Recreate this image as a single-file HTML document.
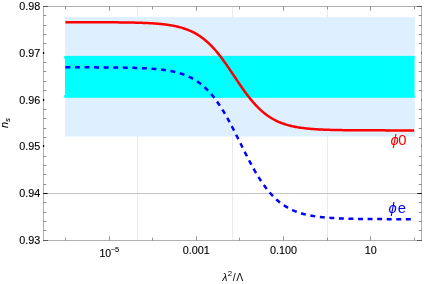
<!DOCTYPE html>
<html><head><meta charset="utf-8"><title>n_s plot</title>
<style>html,body{margin:0;padding:0;background:#fff;}body{width:425px;height:284px;overflow:hidden;font-family:"Liberation Sans",sans-serif;}svg{display:block;will-change:transform;}</style>
</head><body>
<svg width="425" height="284" viewBox="0 0 425 284">
<rect width="425" height="284" fill="#fff"/>
<line x1="137.5" y1="6.5" x2="137.5" y2="240.5" stroke="#ebebeb" stroke-width="1"/>
<line x1="232.5" y1="6.5" x2="232.5" y2="240.5" stroke="#ebebeb" stroke-width="1"/>
<line x1="327.5" y1="6.5" x2="327.5" y2="240.5" stroke="#ebebeb" stroke-width="1"/>
<line x1="43.5" y1="193.5" x2="421.5" y2="193.5" stroke="#c4c4c4" stroke-width="1"/>
<rect x="65" y="17" width="349.9" height="119.5" fill="#deefff"/>
<rect x="65" y="55.9" width="349.5" height="41.9" fill="#00ffff"/>
<path d="M64.1,56.4 q0,-0.5 0.9,-0.5 v2.8 h-0.4 q-0.5,0 -0.5,-0.6z M64.1,97.2 q0,0.6 0.9,0.6 v-2.8 h-0.4 q-0.5,0 -0.5,0.6z M415.4,56.4 q0,-0.5 -0.9,-0.5 v2.8 h0.4 q0.5,0 0.5,-0.6z M415.4,97.2 q0,0.6 -0.9,0.6 v-2.8 h0.4 q0.5,0 0.5,0.6z" fill="#00ffff"/>
<path d="M65,98.4 h0.8 v2.2 h-0.8z M414.9,98.4 h-0.9 v2.4 h0.9z M65,53.2 h0.7 v2.2 h-0.7z M414.9,53.0 h-0.8 v2.4 h0.8z" fill="#fff" fill-opacity="0.85"/>
<path d="M65.40,22.21 L66.27,22.21 L67.14,22.21 L68.02,22.21 L68.89,22.21 L69.76,22.21 L70.63,22.21 L71.50,22.21 L72.38,22.21 L73.25,22.21 L74.12,22.22 L74.99,22.22 L75.86,22.22 L76.74,22.22 L77.61,22.22 L78.48,22.22 L79.35,22.22 L80.22,22.22 L81.10,22.22 L81.97,22.22 L82.84,22.22 L83.71,22.23 L84.58,22.23 L85.46,22.23 L86.33,22.23 L87.20,22.23 L88.07,22.23 L88.94,22.23 L89.82,22.24 L90.69,22.24 L91.56,22.24 L92.43,22.24 L93.30,22.24 L94.18,22.25 L95.05,22.25 L95.92,22.25 L96.79,22.25 L97.66,22.26 L98.54,22.26 L99.41,22.26 L100.28,22.26 L101.15,22.27 L102.02,22.27 L102.90,22.27 L103.77,22.28 L104.64,22.28 L105.51,22.29 L106.38,22.29 L107.26,22.29 L108.13,22.30 L109.00,22.30 L109.87,22.31 L110.74,22.31 L111.62,22.32 L112.49,22.33 L113.36,22.33 L114.23,22.34 L115.10,22.35 L115.98,22.35 L116.85,22.36 L117.72,22.37 L118.59,22.38 L119.46,22.39 L120.34,22.39 L121.21,22.40 L122.08,22.41 L122.95,22.42 L123.82,22.44 L124.70,22.45 L125.57,22.46 L126.44,22.47 L127.31,22.49 L128.18,22.50 L129.06,22.52 L129.93,22.53 L130.80,22.55 L131.67,22.56 L132.54,22.58 L133.42,22.60 L134.29,22.62 L135.16,22.64 L136.03,22.66 L136.90,22.69 L137.78,22.71 L138.65,22.74 L139.52,22.76 L140.39,22.79 L141.26,22.82 L142.14,22.85 L143.01,22.88 L143.88,22.91 L144.75,22.95 L145.62,22.99 L146.50,23.02 L147.37,23.07 L148.24,23.11 L149.11,23.15 L149.98,23.20 L150.86,23.25 L151.73,23.30 L152.60,23.35 L153.47,23.41 L154.34,23.47 L155.22,23.53 L156.09,23.60 L156.96,23.66 L157.83,23.74 L158.70,23.81 L159.58,23.89 L160.45,23.97 L161.32,24.06 L162.19,24.15 L163.06,24.24 L163.94,24.34 L164.81,24.45 L165.68,24.56 L166.55,24.67 L167.42,24.79 L168.30,24.91 L169.17,25.05 L170.04,25.18 L170.91,25.33 L171.78,25.48 L172.66,25.63 L173.53,25.80 L174.40,25.97 L175.27,26.15 L176.14,26.34 L177.02,26.53 L177.89,26.74 L178.76,26.96 L179.63,27.18 L180.50,27.41 L181.38,27.66 L182.25,27.92 L183.12,28.18 L183.99,28.46 L184.86,28.75 L185.74,29.06 L186.61,29.38 L187.48,29.71 L188.35,30.05 L189.22,30.41 L190.10,30.79 L190.97,31.18 L191.84,31.58 L192.71,32.00 L193.58,32.44 L194.46,32.90 L195.33,33.38 L196.20,33.87 L197.07,34.38 L197.94,34.92 L198.82,35.47 L199.69,36.04 L200.56,36.64 L201.43,37.25 L202.30,37.89 L203.18,38.55 L204.05,39.23 L204.92,39.94 L205.79,40.67 L206.66,41.42 L207.54,42.20 L208.41,43.00 L209.28,43.82 L210.15,44.67 L211.02,45.54 L211.90,46.44 L212.77,47.36 L213.64,48.31 L214.51,49.28 L215.38,50.27 L216.26,51.29 L217.13,52.33 L218.00,53.39 L218.87,54.47 L219.74,55.58 L220.62,56.71 L221.49,57.85 L222.36,59.02 L223.23,60.20 L224.10,61.40 L224.98,62.62 L225.85,63.85 L226.72,65.09 L227.59,66.35 L228.46,67.62 L229.34,68.90 L230.21,70.19 L231.08,71.48 L231.95,72.78 L232.82,74.09 L233.70,75.39 L234.57,76.70 L235.44,78.01 L236.31,79.31 L237.18,80.62 L238.06,81.91 L238.93,83.20 L239.80,84.49 L240.67,85.76 L241.54,87.02 L242.42,88.27 L243.29,89.51 L244.16,90.73 L245.03,91.94 L245.90,93.13 L246.78,94.30 L247.65,95.46 L248.52,96.59 L249.39,97.70 L250.26,98.80 L251.14,99.87 L252.01,100.91 L252.88,101.94 L253.75,102.94 L254.62,103.92 L255.50,104.88 L256.37,105.81 L257.24,106.71 L258.11,107.60 L258.98,108.46 L259.86,109.29 L260.73,110.10 L261.60,110.88 L262.47,111.65 L263.34,112.38 L264.22,113.10 L265.09,113.79 L265.96,114.46 L266.83,115.10 L267.70,115.73 L268.58,116.33 L269.45,116.91 L270.32,117.47 L271.19,118.01 L272.06,118.53 L272.94,119.03 L273.81,119.52 L274.68,119.98 L275.55,120.43 L276.42,120.86 L277.30,121.27 L278.17,121.67 L279.04,122.05 L279.91,122.41 L280.78,122.76 L281.66,123.10 L282.53,123.42 L283.40,123.73 L284.27,124.03 L285.14,124.31 L286.02,124.58 L286.89,124.84 L287.76,125.09 L288.63,125.33 L289.50,125.56 L290.38,125.78 L291.25,125.99 L292.12,126.19 L292.99,126.38 L293.86,126.56 L294.74,126.74 L295.61,126.90 L296.48,127.06 L297.35,127.22 L298.22,127.36 L299.10,127.50 L299.97,127.64 L300.84,127.76 L301.71,127.88 L302.58,128.00 L303.46,128.11 L304.33,128.22 L305.20,128.32 L306.07,128.42 L306.94,128.51 L307.82,128.60 L308.69,128.68 L309.56,128.76 L310.43,128.84 L311.30,128.91 L312.18,128.98 L313.05,129.04 L313.92,129.11 L314.79,129.17 L315.66,129.23 L316.54,129.28 L317.41,129.33 L318.28,129.38 L319.15,129.43 L320.02,129.48 L320.90,129.52 L321.77,129.56 L322.64,129.60 L323.51,129.64 L324.38,129.67 L325.26,129.71 L326.13,129.74 L327.00,129.77 L327.87,129.80 L328.74,129.83 L329.62,129.85 L330.49,129.88 L331.36,129.90 L332.23,129.93 L333.10,129.95 L333.98,129.97 L334.85,129.99 L335.72,130.01 L336.59,130.03 L337.46,130.05 L338.34,130.06 L339.21,130.08 L340.08,130.09 L340.95,130.11 L341.82,130.12 L342.70,130.14 L343.57,130.15 L344.44,130.16 L345.31,130.17 L346.18,130.18 L347.06,130.19 L347.93,130.20 L348.80,130.21 L349.67,130.22 L350.54,130.23 L351.42,130.24 L352.29,130.24 L353.16,130.25 L354.03,130.26 L354.90,130.27 L355.78,130.27 L356.65,130.28 L357.52,130.28 L358.39,130.29 L359.26,130.29 L360.14,130.30 L361.01,130.30 L361.88,130.31 L362.75,130.31 L363.62,130.32 L364.50,130.32 L365.37,130.32 L366.24,130.33 L367.11,130.33 L367.98,130.33 L368.86,130.34 L369.73,130.34 L370.60,130.34 L371.47,130.35 L372.34,130.35 L373.22,130.35 L374.09,130.35 L374.96,130.36 L375.83,130.36 L376.70,130.36 L377.58,130.36 L378.45,130.36 L379.32,130.37 L380.19,130.37 L381.06,130.37 L381.94,130.37 L382.81,130.37 L383.68,130.37 L384.55,130.37 L385.42,130.38 L386.30,130.38 L387.17,130.38 L388.04,130.38 L388.91,130.38 L389.78,130.38 L390.66,130.38 L391.53,130.38 L392.40,130.38 L393.27,130.38 L394.14,130.38 L395.02,130.39 L395.89,130.39 L396.76,130.39 L397.63,130.39 L398.50,130.39 L399.38,130.39 L400.25,130.39 L401.12,130.39 L401.99,130.39 L402.86,130.39 L403.74,130.39 L404.61,130.39 L405.48,130.39 L406.35,130.39 L407.22,130.39 L408.10,130.39 L408.97,130.39 L409.84,130.39 L410.71,130.39 L411.58,130.39 L412.46,130.39 L413.33,130.39 L414.20,130.39" fill="none" stroke="#ff0000" stroke-width="2.5"/>
<path d="M65.40,67.31 L66.27,67.32 L67.14,67.32 L68.02,67.32 L68.89,67.32 L69.76,67.32 L70.63,67.32 L71.50,67.32 L72.38,67.32 L73.25,67.32 L74.12,67.32 L74.99,67.32 L75.86,67.33 L76.74,67.33 L77.61,67.33 L78.48,67.33 L79.35,67.33 L80.22,67.33 L81.10,67.33 L81.97,67.34 L82.84,67.34 L83.71,67.34 L84.58,67.34 L85.46,67.34 L86.33,67.34 L87.20,67.35 L88.07,67.35 L88.94,67.35 L89.82,67.35 L90.69,67.36 L91.56,67.36 L92.43,67.36 L93.30,67.36 L94.18,67.37 L95.05,67.37 L95.92,67.37 L96.79,67.38 L97.66,67.38 L98.54,67.38 L99.41,67.39 L100.28,67.39 L101.15,67.40 L102.02,67.40 L102.90,67.41 L103.77,67.41 L104.64,67.42 L105.51,67.42 L106.38,67.43 L107.26,67.43 L108.13,67.44 L109.00,67.45 L109.87,67.45 L110.74,67.46 L111.62,67.47 L112.49,67.48 L113.36,67.49 L114.23,67.49 L115.10,67.50 L115.98,67.51 L116.85,67.52 L117.72,67.53 L118.59,67.54 L119.46,67.56 L120.34,67.57 L121.21,67.58 L122.08,67.59 L122.95,67.61 L123.82,67.62 L124.70,67.64 L125.57,67.65 L126.44,67.67 L127.31,67.69 L128.18,67.70 L129.06,67.72 L129.93,67.74 L130.80,67.76 L131.67,67.79 L132.54,67.81 L133.42,67.83 L134.29,67.86 L135.16,67.88 L136.03,67.91 L136.90,67.94 L137.78,67.97 L138.65,68.00 L139.52,68.03 L140.39,68.07 L141.26,68.10 L142.14,68.14 L143.01,68.18 L143.88,68.22 L144.75,68.27 L145.62,68.31 L146.50,68.36 L147.37,68.41 L148.24,68.46 L149.11,68.51 L149.98,68.57 L150.86,68.63 L151.73,68.69 L152.60,68.76 L153.47,68.83 L154.34,68.90 L155.22,68.97 L156.09,69.05 L156.96,69.13 L157.83,69.22 L158.70,69.30 L159.58,69.40 L160.45,69.50 L161.32,69.60 L162.19,69.70 L163.06,69.82 L163.94,69.93 L164.81,70.05 L165.68,70.18 L166.55,70.31 L167.42,70.45 L168.30,70.60 L169.17,70.75 L170.04,70.91 L170.91,71.07 L171.78,71.25 L172.66,71.43 L173.53,71.62 L174.40,71.82 L175.27,72.02 L176.14,72.24 L177.02,72.46 L177.89,72.70 L178.76,72.94 L179.63,73.20 L180.50,73.46 L181.38,73.74 L182.25,74.03 L183.12,74.33 L183.99,74.65 L184.86,74.98 L185.74,75.32 L186.61,75.68 L187.48,76.05 L188.35,76.44 L189.22,76.84 L190.10,77.26 L190.97,77.70 L191.84,78.15 L192.71,78.63 L193.58,79.12 L194.46,79.63 L195.33,80.16 L196.20,80.72 L197.07,81.29 L197.94,81.89 L198.82,82.51 L199.69,83.15 L200.56,83.81 L201.43,84.50 L202.30,85.22 L203.18,85.96 L204.05,86.73 L204.92,87.52 L205.79,88.34 L206.66,89.19 L207.54,90.07 L208.41,90.97 L209.28,91.91 L210.15,92.87 L211.02,93.87 L211.90,94.89 L212.77,95.94 L213.64,97.03 L214.51,98.15 L215.38,99.29 L216.26,100.47 L217.13,101.68 L218.00,102.92 L218.87,104.19 L219.74,105.50 L220.62,106.83 L221.49,108.19 L222.36,109.58 L223.23,111.00 L224.10,112.45 L224.98,113.92 L225.85,115.42 L226.72,116.95 L227.59,118.50 L228.46,120.07 L229.34,121.67 L230.21,123.29 L231.08,124.93 L231.95,126.58 L232.82,128.26 L233.70,129.94 L234.57,131.65 L235.44,133.36 L236.31,135.08 L237.18,136.82 L238.06,138.56 L238.93,140.30 L239.80,142.05 L240.67,143.80 L241.54,145.54 L242.42,147.29 L243.29,149.03 L244.16,150.77 L245.03,152.49 L245.90,154.21 L246.78,155.92 L247.65,157.61 L248.52,159.29 L249.39,160.95 L250.26,162.60 L251.14,164.22 L252.01,165.83 L252.88,167.41 L253.75,168.97 L254.62,170.51 L255.50,172.02 L256.37,173.50 L257.24,174.96 L258.11,176.39 L258.98,177.79 L259.86,179.16 L260.73,180.51 L261.60,181.82 L262.47,183.10 L263.34,184.35 L264.22,185.58 L265.09,186.77 L265.96,187.92 L266.83,189.05 L267.70,190.15 L268.58,191.22 L269.45,192.25 L270.32,193.26 L271.19,194.23 L272.06,195.18 L272.94,196.10 L273.81,196.98 L274.68,197.84 L275.55,198.68 L276.42,199.48 L277.30,200.26 L278.17,201.01 L279.04,201.73 L279.91,202.43 L280.78,203.11 L281.66,203.76 L282.53,204.38 L283.40,204.99 L284.27,205.57 L285.14,206.13 L286.02,206.67 L286.89,207.19 L287.76,207.69 L288.63,208.17 L289.50,208.63 L290.38,209.08 L291.25,209.50 L292.12,209.91 L292.99,210.31 L293.86,210.68 L294.74,211.05 L295.61,211.39 L296.48,211.73 L297.35,212.05 L298.22,212.36 L299.10,212.65 L299.97,212.93 L300.84,213.20 L301.71,213.46 L302.58,213.71 L303.46,213.95 L304.33,214.18 L305.20,214.40 L306.07,214.61 L306.94,214.81 L307.82,215.00 L308.69,215.18 L309.56,215.36 L310.43,215.53 L311.30,215.69 L312.18,215.85 L313.05,215.99 L313.92,216.13 L314.79,216.27 L315.66,216.40 L316.54,216.52 L317.41,216.64 L318.28,216.76 L319.15,216.86 L320.02,216.97 L320.90,217.07 L321.77,217.16 L322.64,217.25 L323.51,217.34 L324.38,217.42 L325.26,217.50 L326.13,217.58 L327.00,217.65 L327.87,217.72 L328.74,217.78 L329.62,217.85 L330.49,217.91 L331.36,217.96 L332.23,218.02 L333.10,218.07 L333.98,218.12 L334.85,218.17 L335.72,218.22 L336.59,218.26 L337.46,218.30 L338.34,218.34 L339.21,218.38 L340.08,218.42 L340.95,218.45 L341.82,218.49 L342.70,218.52 L343.57,218.55 L344.44,218.58 L345.31,218.61 L346.18,218.63 L347.06,218.66 L347.93,218.68 L348.80,218.71 L349.67,218.73 L350.54,218.75 L351.42,218.77 L352.29,218.79 L353.16,218.81 L354.03,218.82 L354.90,218.84 L355.78,218.86 L356.65,218.87 L357.52,218.89 L358.39,218.90 L359.26,218.92 L360.14,218.93 L361.01,218.94 L361.88,218.95 L362.75,218.96 L363.62,218.97 L364.50,218.98 L365.37,218.99 L366.24,219.00 L367.11,219.01 L367.98,219.02 L368.86,219.03 L369.73,219.04 L370.60,219.04 L371.47,219.05 L372.34,219.06 L373.22,219.06 L374.09,219.07 L374.96,219.08 L375.83,219.08 L376.70,219.09 L377.58,219.09 L378.45,219.10 L379.32,219.10 L380.19,219.11 L381.06,219.11 L381.94,219.11 L382.81,219.12 L383.68,219.12 L384.55,219.12 L385.42,219.13 L386.30,219.13 L387.17,219.13 L388.04,219.14 L388.91,219.14 L389.78,219.14 L390.66,219.15 L391.53,219.15 L392.40,219.15 L393.27,219.15 L394.14,219.15 L395.02,219.16 L395.89,219.16 L396.76,219.16 L397.63,219.16 L398.50,219.16 L399.38,219.17 L400.25,219.17 L401.12,219.17 L401.99,219.17 L402.86,219.17 L403.74,219.17 L404.61,219.17 L405.48,219.18 L406.35,219.18 L407.22,219.18 L408.10,219.18 L408.97,219.18 L409.84,219.18 L410.71,219.18 L411.58,219.18 L412.46,219.18 L413.33,219.18 L414.20,219.18" fill="none" stroke="#0000ff" stroke-width="2.5" stroke-dasharray="4.95 4.615"/>
<rect x="43.5" y="6.5" width="378.0" height="234.0" fill="none" stroke="#b0b0b0" stroke-width="1"/>
<path d="M43.5,15.50 h2.8 M421.5,15.50 h-2.8 M43.5,25.50 h2.8 M421.5,25.50 h-2.8 M43.5,34.50 h2.8 M421.5,34.50 h-2.8 M43.5,43.50 h2.8 M421.5,43.50 h-2.8 M43.5,62.50 h2.8 M421.5,62.50 h-2.8 M43.5,71.50 h2.8 M421.5,71.50 h-2.8 M43.5,81.50 h2.8 M421.5,81.50 h-2.8 M43.5,90.50 h2.8 M421.5,90.50 h-2.8 M43.5,109.50 h2.8 M421.5,109.50 h-2.8 M43.5,118.50 h2.8 M421.5,118.50 h-2.8 M43.5,128.50 h2.8 M421.5,128.50 h-2.8 M43.5,137.50 h2.8 M421.5,137.50 h-2.8 M43.5,156.50 h2.8 M421.5,156.50 h-2.8 M43.5,165.50 h2.8 M421.5,165.50 h-2.8 M43.5,174.50 h2.8 M421.5,174.50 h-2.8 M43.5,184.50 h2.8 M421.5,184.50 h-2.8 M43.5,202.50 h2.8 M421.5,202.50 h-2.8 M43.5,212.50 h2.8 M421.5,212.50 h-2.8 M43.5,221.50 h2.8 M421.5,221.50 h-2.8 M43.5,230.50 h2.8 M421.5,230.50 h-2.8" stroke="#808080" stroke-width="0.9" fill="none"/>
<path d="M65.50,240.5 v-2.9 M65.50,6.5 v2.9 M109.50,240.5 v-4.2 M109.50,6.5 v4.2 M152.50,240.5 v-2.9 M152.50,6.5 v2.9 M196.50,240.5 v-4.2 M196.50,6.5 v4.2 M239.50,240.5 v-2.9 M239.50,6.5 v2.9 M283.50,240.5 v-4.2 M283.50,6.5 v4.2 M327.50,240.5 v-2.9 M327.50,6.5 v2.9 M370.50,240.5 v-4.2 M370.50,6.5 v4.2 M414.50,240.5 v-2.9 M414.50,6.5 v2.9" stroke="#7a7a7a" stroke-width="0.8" fill="none"/>
<path d="M42.9,53.00 h1.3 M42.9,100.00 h1.3 M42.9,146.00 h1.3" stroke="#000" stroke-width="2.0" fill="none"/>
<path d="M421.9,53.00 h-0.9 M421.9,100.00 h-0.9 M421.9,146.00 h-0.9" stroke="#444" stroke-width="1.1" fill="none"/>
<path d="M43.0,6.5 h5 M422.0,6.5 h-5 M43.0,240.5 h5 M422.0,240.5 h-5" stroke="#5a5a5a" stroke-width="1" fill="none"/>
<path d="M43.1,193.5 h4.6 M421.9,193.5 h-4.6" stroke="#000" stroke-width="0.9" fill="none"/>
<g font-family="Liberation Sans, sans-serif" font-size="10.8" fill="#000" stroke="#000" stroke-width="0.12">
<text x="40.2" y="10.20" text-anchor="end">0.98</text>
<text x="40.2" y="56.95" text-anchor="end">0.97</text>
<text x="40.2" y="103.70" text-anchor="end">0.96</text>
<text x="40.2" y="150.45" text-anchor="end">0.95</text>
<text x="40.2" y="197.20" text-anchor="end">0.94</text>
<text x="40.2" y="243.95" text-anchor="end">0.93</text>
<text x="196.30" y="253.9" text-anchor="middle">0.001</text>
<text x="283.50" y="253.9" text-anchor="middle">0.100</text>
<text x="370.70" y="253.9" text-anchor="middle">10</text>
<text y="256.9" font-size="10.5"><tspan x="99.4">10</tspan><tspan x="110.7" dy="-5.4" font-size="7.6">−5</tspan></text>
<text y="280.8" font-size="10.5" stroke="none"><tspan x="222.3" font-style="italic">λ</tspan><tspan x="227.7" dy="-4.5" font-size="7.8">2</tspan><tspan x="232.7" dy="4.5">/</tspan><tspan x="236.2">Λ</tspan></text>
<text transform="translate(7.6,128.1) rotate(-90)"><tspan font-style="italic">n</tspan><tspan dy="2.4" font-size="7.6" font-style="italic">s</tspan></text>
</g>
<g font-family="Liberation Sans, sans-serif" font-size="14.8">
<text y="145.2" fill="#ff0000"><tspan x="390.45" font-style="italic">ϕ</tspan><tspan x="398.2">0</tspan></text>
<text y="212.6" fill="#0000ff"><tspan x="388.45" font-style="italic">ϕ</tspan><tspan x="397.85">e</tspan></text>
</g>
</svg>
</body></html>
